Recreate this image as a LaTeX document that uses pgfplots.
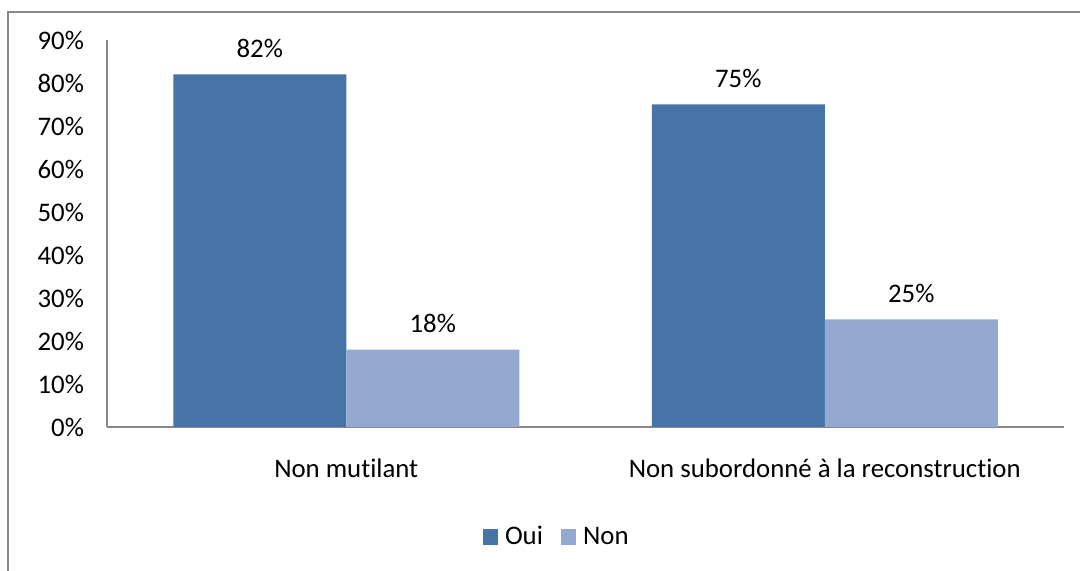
\documentclass[border=0pt]{standalone}
\usepackage{pgfplots}
\pgfplotsset{compat=1.18}
\usepackage{fontspec}
\setmainfont[Ligatures=NoCommon]{Carlito}
\definecolor{oui}{HTML}{4674A7}
\definecolor{non}{HTML}{94A9D0}
\definecolor{axisgray}{HTML}{878787}
\newcommand\lbl{\fontsize{13.4}{16}\selectfont}
\begin{document}
\begin{tikzpicture}
	\path[use as bounding box] (0,0) rectangle (540pt,285.5pt);
	\draw[axisgray, line width=1pt] (4pt,-2pt) -- (4pt,279.5pt) -- (542pt,279.5pt);
	\begin{axis}[
	at={(53.5pt,72pt)},
	anchor=south west,
	scale only axis,
	width=478.5pt,
	height=193.5pt,
	ybar=0pt,
	bar width=86.5pt,
	xmin=-0.5, xmax=1.5,
	ymin=0, ymax=90,
	xtick=data,
	xticklabels={Non mutilant, Non subordonné à la reconstruction},
	ytick={0,10,...,90},
	yticklabel={\pgfmathprintnumber{\tick}\%},
	/pgf/number format/assume math mode=true,
	major tick length=0pt,
	axis x line*=bottom,
	axis y line*=left,
	axis line style={axisgray, line width=0.9pt, -},
	ticklabel style={font=\lbl},
	xticklabel style={yshift=-12.5pt},
	yticklabel style={xshift=-8pt},
	nodes near coords={\pgfmathprintnumber{\pgfplotspointmeta}\%},
	nodes near coords style={font=\lbl, black, yshift=5pt},
	clip=false,
	area legend,
	legend image code/.code={\fill[#1] (0pt,-3.8pt) rectangle (7.6pt,3.8pt);},
	legend style={draw=none, fill=none, font=\lbl, legend columns=-1,
		at={(0.471,-0.284)}, anchor=center,
		/tikz/every even column/.append style={column sep=7pt},
		/tikz/every odd column/.append style={column sep=1.5pt}},
	]
	\addplot[fill=oui, draw=none] coordinates {(0,82) (1,75)};
	\addplot[fill=non, draw=none] coordinates {(0,18) (1,25)};
	\legend{Oui,Non}
	\end{axis}
\end{tikzpicture}
\end{document}
